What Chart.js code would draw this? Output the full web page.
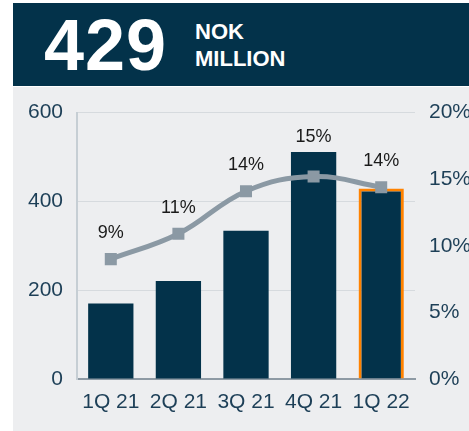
<!DOCTYPE html>
<html>
<head>
<meta charset="utf-8">
<script src="https://cdn.jsdelivr.net/npm/chart.js@4/dist/chart.umd.min.js"></script>
<style>
  html, body { margin: 0; padding: 0; background: #fff; }
  body { width: 469px; height: 431px; position: relative; overflow: hidden; font-family: "Liberation Sans", Arial, sans-serif; }
  #head { position: absolute; left: 13px; top: 3px; width: 456px; height: 83px; background: #03324a; color: #fff; }
  #big { position: absolute; left: 31px; top: 2px; font-size: 72px; font-weight: bold; line-height: 80px; letter-spacing: 1px; }
  #unit { position: absolute; left: 182px; top: 15px; font-size: 22px; font-weight: bold; line-height: 27px; }
  #panel { position: absolute; left: 13px; top: 87px; width: 456px; height: 344px; background: #edeef0; }
  #wrap { position: absolute; left: 13px; top: 86px; width: 456px; height: 345px; }
</style>
</head>
<body>
<div id="head"><div id="big">429</div><div id="unit">NOK<br>MILLION</div></div>
<div id="panel"></div>
<div id="wrap"><canvas id="chart"></canvas></div>
<script>
const quarters = ['1Q 21', '2Q 21', '3Q 21', '4Q 21', '1Q 22'];
const revenue = [170, 221, 334, 511, 429];
const margin = [9.0, 10.9, 14.1, 15.2, 14.4];
const marginLabels = ['9%', '11%', '14%', '15%', '14%'];
const leftTicks = [0, 200, 400, 600];
const rightTicks = [0, 5, 10, 15, 20];

const navy = '#03324a',
      tickColor = '#1d3f57',
      lineGrey = '#8b99a4',
      fontFamily = '"Liberation Sans", Arial, sans-serif';

// label above each margin point, pushed above the bar if the bar is in the way
let pointLabels = {
  id: 'pointLabels',
  afterDatasetsDraw: (chart) => {
    let ctx = chart.ctx,
        bars = chart.getDatasetMeta(0).data,
        meta = chart.getDatasetMeta(1);
    ctx.save();
    ctx.font = '18px ' + fontFamily;
    ctx.fillStyle = '#1a1a1a';
    ctx.textAlign = 'center';
    ctx.textBaseline = 'middle';
    meta.data.forEach((pt, i) => {
      let y = Math.min(pt.y - 26, bars[i].y - 15);
      ctx.fillText(marginLabels[i], pt.x, y);
    });
    ctx.restore();
  }
};

let ctx = document.getElementById('chart').getContext('2d');
let chart = new Chart(ctx, {
  type: 'bar',
  data: {
    labels: quarters,
    datasets: [
      {
        type: 'bar',
        data: revenue,
        backgroundColor: navy,
        borderColor: revenue.map((v, i) => i === revenue.length - 1 ? '#ff8200' : navy),
        borderWidth: revenue.map((v, i) => i === revenue.length - 1 ? 3 : 0),
        categoryPercentage: 1,
        barPercentage: 0.67,
        yAxisID: 'y',
        order: 2
      },
      {
        type: 'line',
        data: margin,
        borderColor: lineGrey,
        backgroundColor: lineGrey,
        borderWidth: 5,
        tension: 0.4,
        pointStyle: 'rect',
        pointRadius: 8.5,
        pointBorderWidth: 0,
        yAxisID: 'y1',
        order: 1
      }
    ]
  },
  options: {
    responsive: true,
    maintainAspectRatio: false,
    animation: false,
    layout: { padding: { top: 22, left: 0, right: 0, bottom: 0 } },
    plugins: { legend: { display: false }, tooltip: { enabled: false } },
    scales: {
      x: {
        grid: { display: false, drawTicks: false },
        border: { color: '#8e9aa4', width: 2 },
        ticks: { color: tickColor, font: { size: 21, family: fontFamily }, padding: 11 },
        afterFit: (scale) => { scale.height = 52; }
      },
      y: {
        position: 'left',
        min: 0, max: 600,
        afterBuildTicks: (scale) => { scale.ticks = leftTicks.map(v => ({ value: v })); },
        grid: { color: (c) => c.tick.value === 0 ? 'rgba(0,0,0,0)' : '#d6dade', drawTicks: false },
        border: { color: '#c6ced4', width: 2 },
        ticks: { color: tickColor, font: { size: 21, family: fontFamily }, padding: 14 },
        afterFit: (scale) => { scale.width = 64; }
      },
      y1: {
        position: 'right',
        min: 0, max: 20,
        afterBuildTicks: (scale) => { scale.ticks = rightTicks.map(v => ({ value: v })); },
        grid: { display: false, drawTicks: false },
        border: { display: false },
        ticks: { color: tickColor, font: { size: 21, family: fontFamily }, padding: 14, callback: (v) => v + '%' },
        afterFit: (scale) => { scale.width = 54; }
      }
    }
  },
  plugins: [pointLabels]
});
</script>
</body>
</html>
